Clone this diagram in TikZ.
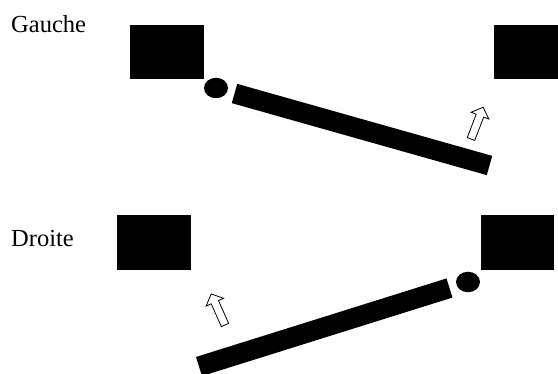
\documentclass[tikz,border=0pt]{standalone}
\usepackage{fontspec}
\setmainfont{Liberation Serif}
\usetikzlibrary{shapes.geometric}

\begin{document}
\begin{tikzpicture}[
  x=1pt, y=-1pt,
  block/.style={fill=black, inner sep=0pt, minimum width=74pt, minimum height=54pt},
  pivot/.style={ellipse, fill=black, inner sep=0pt, minimum width=24pt, minimum height=20.5pt},
  flipper/.style={line width=20pt, line cap=butt},
  label/.style={anchor=base west, inner sep=0pt, font=\fontsize{24.5}{28}\selectfont},
  hollow/.style={draw=black, fill=white, line width=0.8pt, line join=miter}
]
\clip (0,0) rectangle (558,374);
\useasboundingbox (0,0) rectangle (558,374);

% top: Gauche
\node[label] (gauche) at (11,33) {Gauche};
\node[block] (blockTL) at (167,52) {};
\node[block] (blockTR) at (531,52) {};
\node[pivot] (pivotT) at (216,88) {};
\coordinate (flipTa) at (234.5,93.5);
\coordinate (flipTb) at (489.5,165.5);
\draw[flipper] (flipTa) -- (flipTb);
\begin{scope}[shift={(471,139)}, rotate=69]
  \draw[hollow] (0,-4) -- (25,-4) -- (25,-9.5) -- (34,0) -- (25,9.5) -- (25,4) -- (0,4) -- cycle;
\end{scope}

% bottom: Droite
\node[label] (droite) at (11,247) {Droite};
\node[block, minimum height=55pt] (blockBL) at (154,242.5) {};
\node[block, minimum height=55pt, minimum width=73pt] (blockBR) at (517.5,242.5) {};
\node[pivot] (pivotB) at (468,282) {};
\coordinate (flipBa) at (199,366.5);
\coordinate (flipBb) at (449.5,288);
\draw[flipper] (flipBa) -- (flipBb);
\begin{scope}[shift={(225,325)}, rotate=114]
  \draw[hollow] (0,-4) -- (25,-4) -- (25,-9.5) -- (34,0) -- (25,9.5) -- (25,4) -- (0,4) -- cycle;
\end{scope}
\end{tikzpicture}
\end{document}
